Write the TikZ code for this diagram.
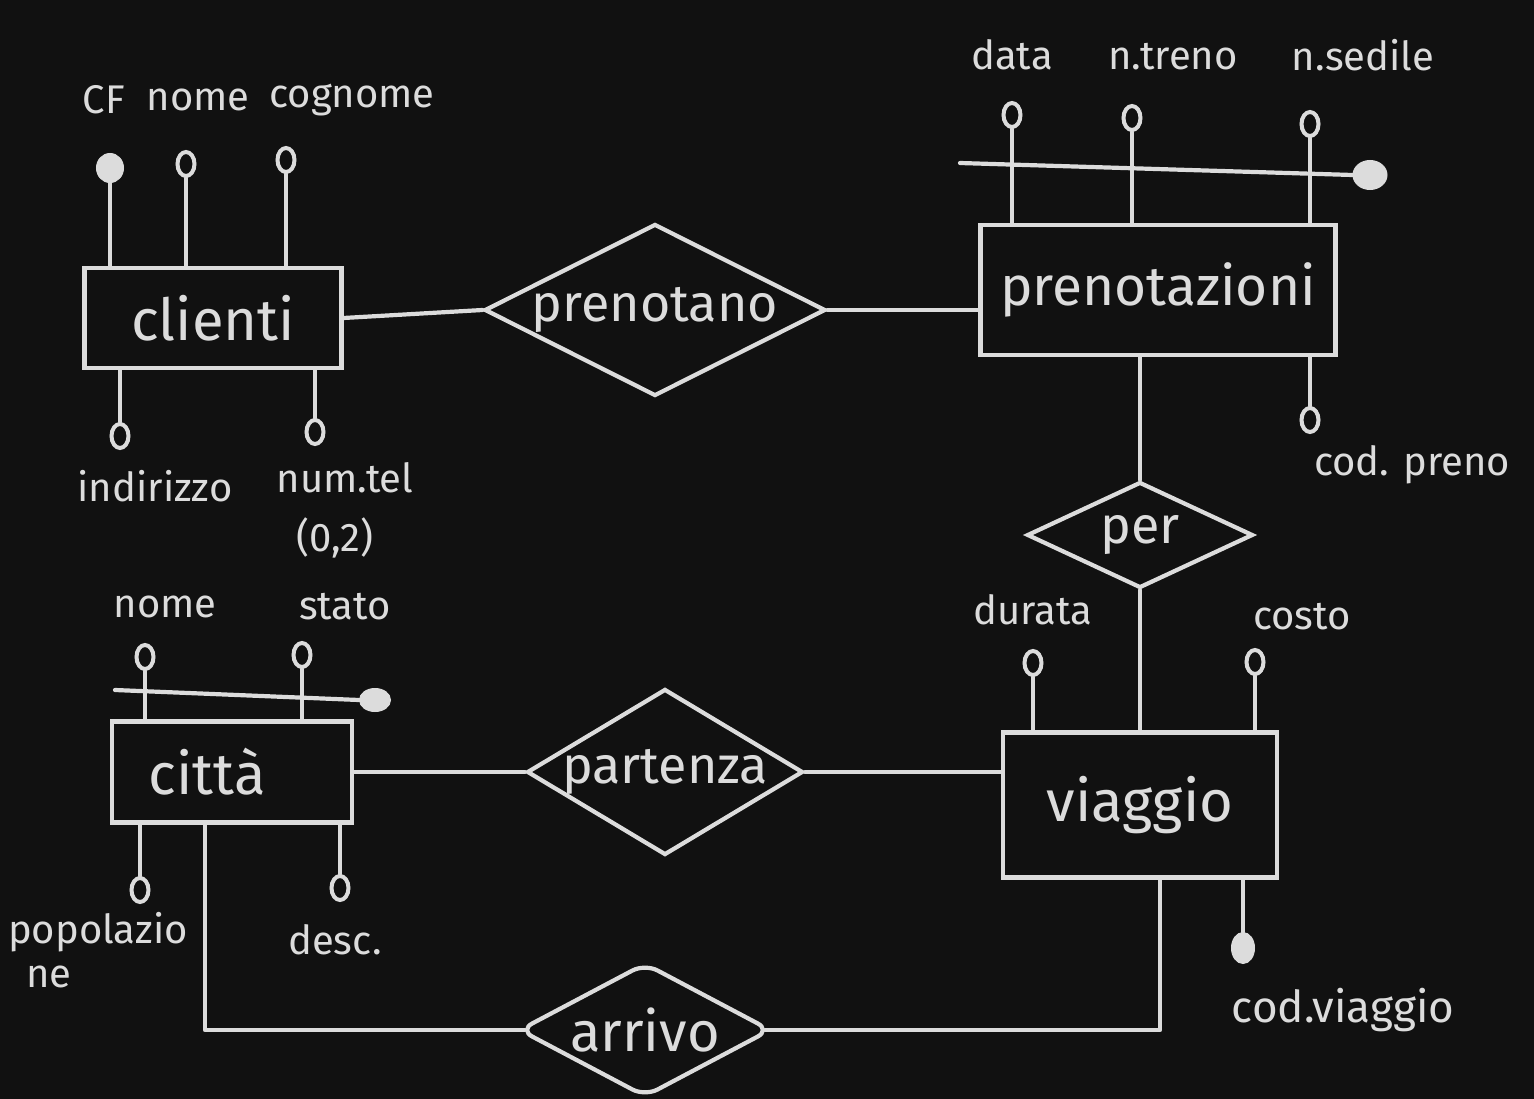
\documentclass[tikz,border=0pt]{standalone}
\usepackage{fontspec}
\setmainfont{Fira Sans}
\usetikzlibrary{shapes.geometric}
\definecolor{bg}{HTML}{111111}
\definecolor{fg}{HTML}{DCDCDC}
\tikzset{
  conn/.style={line width=4.2pt, draw=fg, line cap=round, line join=round},
  entity/.style={draw=fg, line width=4.2pt, rectangle, inner sep=0pt, text=fg, font=\fontsize{58}{66}\selectfont},
  relship/.style={draw=fg, line width=4.2pt, diamond, aspect=2, inner sep=-14pt, text=fg, font=\fontsize{52}{60}\selectfont},
  attrc/.style={draw=fg, line width=4pt, ellipse, inner sep=0pt, minimum width=17pt, minimum height=24pt},
  keyc/.style={fill=fg, draw=fg, line width=1pt, ellipse, inner sep=0pt},
  lbl/.style={text=fg, inner sep=0pt, font=\fontsize{40}{46}\selectfont}
}
\begin{document}
\begin{tikzpicture}[x=1pt,y=-1pt]
\fill[bg] (0,0) rectangle (1534,1099);
\useasboundingbox (0,0) rectangle (1534,1099);

% entities
\node[entity, minimum width=257pt, minimum height=100pt] (clienti) at (213,318) {clienti};
\node[entity, minimum width=355pt, minimum height=130pt, font=\fontsize{55}{62}\selectfont] (prenotazioni) at (1158,290) {prenotazioni};
\node[entity, minimum width=274pt, minimum height=145pt] (viaggio) at (1140,805) {viaggio};
\node[entity, minimum width=240pt, minimum height=101pt] (citta) at (232,772) {città\hspace*{50pt}};

% relationships
\node[relship, minimum width=341pt, minimum height=172pt] (prenotano) at (655,310) {prenotano};
\node[relship, minimum width=226pt, minimum height=106pt] (per) at (1140,535) {per};
\node[relship, minimum width=276pt, minimum height=166pt] (partenza) at (665,772) {partenza};
\node[relship, rounded corners=14pt, minimum width=252pt, minimum height=134pt, font=\fontsize{56}{62}\selectfont] (arrivo) at (645,1030) {arrivo};

% connectors between entities and relationships
\draw[conn] (clienti.east) -- (prenotano.west);
\draw[conn] (prenotano.east) -- (prenotano.east -| prenotazioni.west);
\draw[conn] (per.north |- prenotazioni.south) -- (per.north);
\draw[conn] (per.south) -- (per.south |- viaggio.north);
\draw[conn] (citta.east) -- (partenza.west);
\draw[conn] (partenza.east) -- (partenza.east -| viaggio.west);
\draw[conn] ([xshift=-27pt]citta.south) |- ([xshift=8pt]arrivo.west);
\draw[conn] ([xshift=-8pt]arrivo.east) -| ([xshift=20pt]viaggio.south);

% clienti attributes
\node[keyc, minimum width=27pt, minimum height=29pt] (cf) at (110,168) {};
\node[attrc] (cnome) at (186,164) {};
\node[attrc] (ccognome) at (286,160) {};
\draw[conn] (cf.south) -- (cf.south |- clienti.north);
\draw[conn] (cnome.south) -- (cnome.south |- clienti.north);
\draw[conn] (ccognome.south) -- (ccognome.south |- clienti.north);
\node[lbl] (lcf) at (104,100) {CF};
\node[lbl] (lcnome) at (198,100) {nome};
\node[lbl] (lccognome) at (352,100) {cognome};
\node[attrc] (ind) at (120,436) {};
\node[attrc] (tel) at (315,432) {};
\draw[conn] (ind.north) -- (ind.north |- clienti.south);
\draw[conn] (tel.north) -- (tel.north |- clienti.south);
\node[lbl] (lind) at (155,486) {indirizzo};
\node[lbl] (ltel) at (345,478) {num.tel};
\node[lbl] (lcard) at (335,538) {(0,2)};

% prenotazioni attributes
\node[attrc] (data) at (1012,115) {};
\node[attrc] (treno) at (1132,118) {};
\node[attrc] (sedile) at (1310,124) {};
\draw[conn] (data.south) -- (data.south |- prenotazioni.north);
\draw[conn] (treno.south) -- (treno.south |- prenotazioni.north);
\draw[conn] (sedile.south) -- (sedile.south |- prenotazioni.north);
\coordinate (pk0) at (960,163);
\node[keyc, minimum width=34pt, minimum height=29pt] (pkey) at (1370,175) {};
\draw[conn] (pk0) -- (pkey.west);
\node[lbl] (ldata) at (1012,55) {data};
\node[lbl] (ltreno) at (1173,57) {n.treno};
\node[lbl] (lsedile) at (1363,55) {n.sedile};
\node[attrc] (cpreno) at (1310,420) {};
\draw[conn] (cpreno.north) -- (cpreno.north |- prenotazioni.south);
\node[lbl] (lcpreno) at (1412,465) {cod. preno};

% viaggio attributes
\node[attrc] (durata) at (1033,663) {};
\node[attrc] (costo) at (1255,662) {};
\draw[conn] (durata.south) -- (durata.south |- viaggio.north);
\draw[conn] (costo.south) -- (costo.south |- viaggio.north);
\node[lbl] (ldurata) at (1033,610) {durata};
\node[lbl] (lcosto) at (1302,617) {costo};
\node[keyc, minimum width=23pt, minimum height=31pt] (cviaggio) at (1243,948) {};
\draw[conn] (cviaggio.north) -- (cviaggio.north |- viaggio.south);
\node[lbl, font=\fontsize{44}{50}\selectfont] (lcviaggio) at (1343,1010) {cod.viaggio};

% citta attributes
\node[attrc] (tnome) at (145,657) {};
\node[attrc] (stato) at (302,655) {};
\draw[conn] (tnome.south) -- (tnome.south |- citta.north);
\draw[conn] (stato.south) -- (stato.south |- citta.north);
\coordinate (tk0) at (115,690);
\node[keyc, minimum width=31pt, minimum height=23pt] (tkey) at (375,700) {};
\draw[conn] (tk0) -- (tkey.west);
\node[lbl] (ltnome) at (165,607) {nome};
\node[lbl] (lstato) at (345,607) {stato};
\node[attrc] (pop) at (140,890) {};
\node[attrc] (desc) at (340,888) {};
\draw[conn] (pop.north) -- (pop.north |- citta.south);
\draw[conn] (desc.north) -- (desc.north |- citta.south);
\node[lbl, align=left, anchor=north west] (lpop) at (8,912) {popolazio\\[-2pt]\hspace*{18pt}ne};
\node[lbl] (ldesc) at (335,940) {desc.};
\end{tikzpicture}
\end{document}
